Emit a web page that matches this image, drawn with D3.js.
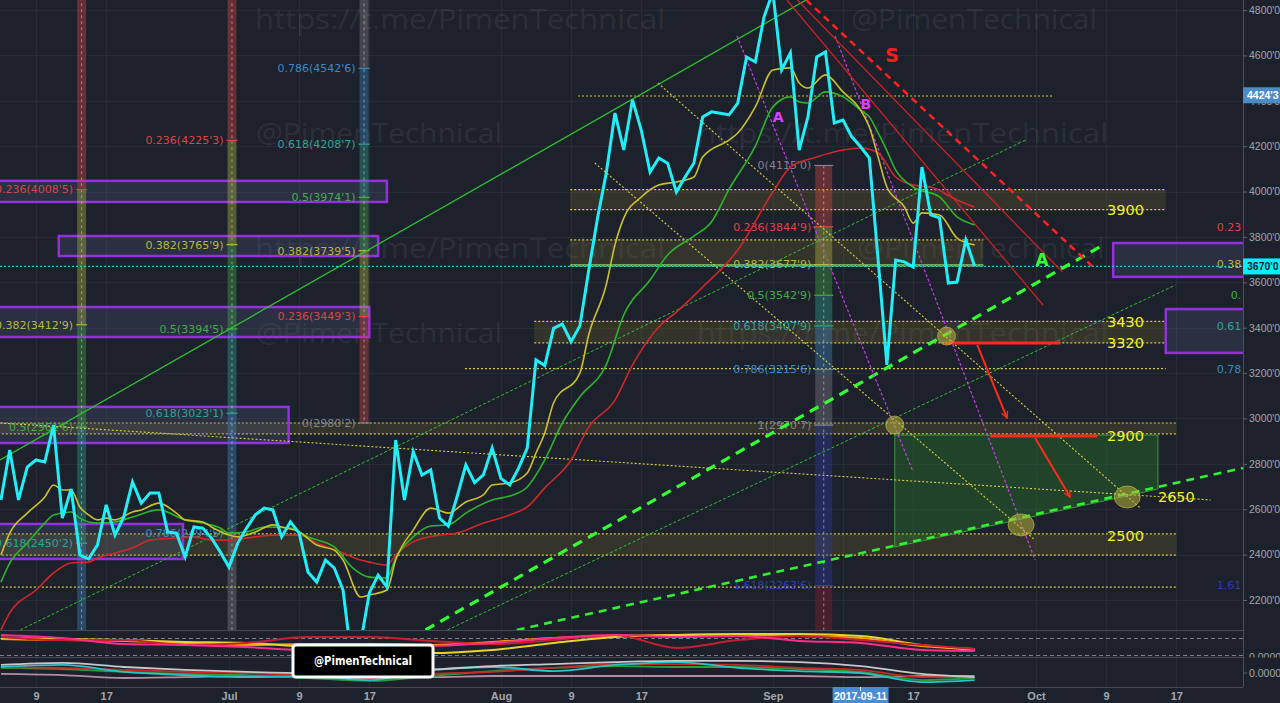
<!DOCTYPE html>
<html><head><meta charset="utf-8">
<script src="https://cdn.jsdelivr.net/npm/d3@7"></script>
<style>
html,body{margin:0;padding:0;background:#1d212b;overflow:hidden;}
svg{display:block;}
</style></head><body>
<svg id="chart" width="1280" height="703"></svg>
<script>
// ================= DATA =================
const priceStart = "2017-06-05";
const priceClose = [
 2641,2861,2641,2786,2817,2808,2971,2561,2689,2398,2381,2442,2619,2486,2566,2720,2627,2672,2672,2500,2495,2390,2522,2517,2473,2412,
 2345,2451,2517,2575,2605,2597,2478,2544,2495,2323,2279,2376,2341,2244,1930,2010,2231,2310,2257,2905,2641,2854,2751,2773,2561,2526,2655,2795,2717,2751,2869,
 2736,2707,2780,2869,3258,3233,3397,3416,3338,3408,3650,3880,4080,4346,4183,4404,4270,4086,4148,4125,3998,4064,4126,4329,4351,4345,4338,4390,4593,4571,4770,
 4880,4536,4611,4183,4329,4593,4615,4302,4315,4241,4197,4148,3700,3236,3698,3690,3667,4108,3897,3884,3597,3601,3787,3672
];
const yellowMA = [["06-05",2398],["06-06",2495],["06-08",2583],["06-10",2654],["06-11",2707],["06-12",2685],["06-13",2685],["06-14",2610],["06-15",2575],["06-16",2553],["06-17",2561],["06-18",2553],["06-20",2588],["06-21",2597],["06-23",2627],["06-25",2583],["06-26",2553],["06-28",2544],["06-29",2522],["07-01",2486],["07-02",2478],["07-04",2500],["07-06",2531],["07-07",2522],["07-09",2500],["07-11",2442],["07-13",2420],["07-14",2376],["07-16",2213],["07-17",2222],["07-19",2244],["07-20",2376],["07-22",2508],["07-24",2605],["07-26",2583],["07-28",2632],["07-30",2663],["07-31",2707],["08-02",2716],["08-04",2760],["08-05",2848],["08-06",2936],["08-07",3068],["08-10",3200],["08-11",3368],["08-13",3588],["08-14",3765],["08-15",3883],["08-17",3976],["08-19",4029],["08-21",4042],["08-23",4064],["08-24",4152],["08-27",4227],["08-28",4258],["08-30",4373],["09-01",4536],["09-03",4545],["09-04",4478],["09-05",4456],["09-07",4514],["09-09",4439],["09-11",4359],["09-12",4284],["09-13",4152],["09-14",4020],["09-16",3932],["09-17",3861],["09-18",3906],["09-20",3897],["09-22",3795],["09-24",3765]];
const greenMA = [["06-05",2279],["06-06",2363],["06-08",2451],["06-10",2539],["06-11",2575],["06-13",2588],["06-14",2561],["06-16",2539],["06-18",2544],["06-20",2566],["06-23",2597],["06-26",2553],["06-28",2539],["06-30",2517],["07-01",2495],["07-03",2500],["07-05",2522],["07-08",2517],["07-10",2478],["07-13",2434],["07-15",2345],["07-17",2301],["07-19",2297],["07-20",2385],["07-22",2478],["07-24",2526],["07-26",2531],["07-28",2583],["07-31",2641],["08-02",2658],["08-04",2698],["08-06",2817],["08-08",2980],["08-10",3095],["08-13",3236],["08-15",3456],["08-18",3610],["08-20",3720],["08-23",3804],["08-25",3866],["08-27",4010],["08-30",4200],["09-01",4373],["09-03",4417],["09-04",4395],["09-05",4390],["09-07",4439],["09-09",4417],["09-11",4359],["09-12",4329],["09-13",4258],["09-14",4180],["09-15",4095],["09-17",4020],["09-20",3976],["09-22",3888],["09-24",3853]];
const redMA = [["06-05",2068],["06-06",2143],["06-09",2244],["06-11",2319],["06-13",2363],["06-15",2367],["06-16",2385],["06-18",2407],["06-20",2429],["06-22",2464],["06-25",2473],["06-27",2478],["06-29",2464],["07-01",2464],["07-04",2478],["07-06",2486],["07-09",2486],["07-11",2451],["07-14",2407],["07-16",2376],["07-17",2367],["07-19",2354],["07-20",2398],["07-22",2456],["07-25",2486],["07-27",2495],["07-30",2539],["08-02",2575],["08-04",2610],["08-06",2694],["08-09",2817],["08-11",2962],["08-14",3081],["08-16",3236],["08-19",3403],["08-21",3469],["08-24",3579],["08-28",3742],["09-01",3998],["09-03",4108],["09-06",4152],["09-09",4183],["09-11",4192],["09-13",4170],["09-15",4064],["09-17",4029],["09-19",4020],["09-22",3963],["09-24",3932]];

// indicator panes (weekly readings, 0-100 pane units)
const paneDates = ["06-05","06-12","06-19","06-26","07-03","07-10","07-17","07-24","07-31","08-07","08-14","08-21","08-28","09-04","09-11","09-18","09-24"];
const oscMagenta = [85,73,50,46,38,27,35,42,54,73,85,77,81,62,54,27,23];
const oscYellow  = [73,69,65,58,54,38,27,15,27,54,77,85,88,88,81,46,27];
const oscRed     = [77,65,65,46,54,77,77,62,50,65,85,35,65,81,65,46,31];
const oscOrange  = [69,65,62,54,46,50,50,46,58,73,81,85,85,81,73,42,31];
const volWhite = [76,83,69,59,52,48,48,59,72,79,86,90,90,86,72,45,34];
const volCyan  = [69,76,52,41,34,38,24,59,69,55,76,86,66,55,48,17,24];
const volRed   = [69,66,59,52,48,41,31,45,52,66,79,79,76,66,59,34,34];
const volPink  = [45,41,31,34,38,34,34,34,38,38,38,38,38,38,34,38,38];
const volGreen = [66,62,52,45,41,31,21,38,55,66,72,69,69,62,52,24,31];

// axis ticks
const priceTicks = [2200,2400,2600,2800,3000,3200,3400,3600,3800,4000,4200,4400,4600,4800];
const xTickDates = ["2017-06-09","2017-06-17","2017-07-01","2017-07-09","2017-07-17","2017-08-01","2017-08-09","2017-08-17","2017-09-01","2017-09-09","2017-09-17","2017-10-01","2017-10-09","2017-10-17"];
const xTickLabels = ["9","17","Jul","9","17","Aug","9","17","Sep","9","17","Oct","9","17"];

// drawings: day offsets from 2017-07-01, prices
const trendSolid = [[-26.1,2817,65.8,4844]];
const trendDotted = [[-23.8,2068,90.8,4227],[24.9,2068,107.9,3588]];
const trendDashThick = [[22.4,2068,99.7,3765]];
const trendDashMed = [[32.8,2068,115.6,2782]];
const yellowDiag = [[41.7,4126,91.9,2464],[48.9,4478,103.9,2605],[-26.1,2980,111.9,2641]];
const magentaLines = [[57.9,4686,77.9,2773],[69.1,4686,91.9,2376]];
const redDashed = [[65.8,4844,98.5,3668]];
const redSolid = [[63.6,4844,92.8,3500],[64.8,4844,95.0,3646]];
const redHoriz = [[81.6,3333,94.8,3333],[86.8,2923,99.0,2923]];
const redArrows = [[85.3,3324,88.7,3002],[91.9,2914,95.9,2654]];
const circlesSmall = [[81.8,3363],[75.9,2971]];
const circlesLarge = [[90.3,2531],[102.4,2654]];
const zones = [[38.9,106.8,4008,3920],[38.9,86.0,3787,3672],[34.8,106.8,3428,3333],[-30,108.0,2980,2932],[-30,108.0,2491,2398]];
const dottedLevels = [[39.8,94.0,4421],[26.9,106.8,3220],[-30,108.0,2257]];
const fibLine382 = [[38.9,86.0,3677.9]];
const levelLabels = [["3900",100.1,3919],["3430",100.1,3425],["3320",100.1,3333],["2900",100.1,2923],["2650",105.9,2654],["2500",100.1,2482]];
const targetBox = [75.9,105.9,2927,2434,2689];
const purpleBoxes = [[-30,18.0,4047,3954],[-19.4,17.0,3804,3716],[-30,16.0,3491,3359],[-30,6.8,3051,2892],[-30,-5.25,2535,2381],[100.8,125,3773,3624],[106.8,125,3482,3289]];
const currentPrice = 3670;
const highPrice = 4424.3;

// fib tools: stripe segments [from, to, level] and labels [text, price, level]
const fibDays = [-16.8, 0.34, 15.4, 67.8];
const fibSegments = [
 [[5200,4008.5,"0.236"],[4008.5,3412.9,"0.382"],[3412.9,2961.6,"0.5"],[2961.6,2450.2,"0.618"],[2450.2,1900,"0.786"]],
 [[5200,4225.3,"0.236"],[4225.3,3765.9,"0.382"],[3765.9,3394.5,"0.5"],[3394.5,3023.1,"0.618"],[3023.1,2494.5,"0.786"],[2494.5,1900,"1"]],
 [[2980.2,3449.3,"0.236"],[3449.3,3739.5,"0.382"],[3739.5,3974.1,"0.5"],[3974.1,4208.7,"0.618"],[4208.7,4542.6,"0.786"],[4542.6,5200,"1"]],
 [[4114.9,3844.9,"0.236"],[3844.9,3677.9,"0.382"],[3677.9,3542.9,"0.5"],[3542.9,3407.9,"0.618"],[3407.9,3215.6,"0.786"],[3215.6,2970.7,"1"],[2970.7,2263.6,"1.618"],[2263.6,1900,"2.618"]]
];
const fibLabels = [
 [["0.236(4008'5)",4008.5,"0.236"],["0.382(3412'9)",3412.9,"0.382"],["0.5(2961'6)",2961.6,"0.5"],["0.618(2450'2)",2450.2,"0.618"]],
 [["0.236(4225'3)",4225.3,"0.236"],["0.382(3765'9)",3765.9,"0.382"],["0.5(3394'5)",3394.5,"0.5"],["0.618(3023'1)",3023.1,"0.618"],["0.786(2494'5)",2494.5,"0.786"]],
 [["0.786(4542'6)",4542.6,"0.786"],["0.618(4208'7)",4208.7,"0.618"],["0.5(3974'1)",3974.1,"0.5"],["0.382(3739'5)",3739.5,"0.382"],["0.236(3449'3)",3449.3,"0.236"],["0(2980'2)",2980.2,"0"]],
 [["0(4115'0)",4114.9,"0"],["0.236(3844'9)",3844.9,"0.236"],["0.382(3677'9)",3677.9,"0.382"],["0.5(3542'9)",3542.9,"0.5"],["0.618(3407'9)",3407.9,"0.618"],["0.786(3215'6)",3215.6,"0.786"],["1(2970'7)",2970.7,"1"],["1.618(2263'6)",2263.6,"1.618"]]
];
const fibRightDay = 121.5;
const fibRightLabels = [["0.236(3844'9)",3844.9,"0.236"],["0.382(3677'9)",3677.9,"0.382"],["0.5(3542'9)",3542.9,"0.5"],["0.618(3407'9)",3407.9,"0.618"],["0.786(3215'6)",3215.6,"0.786"],["1.618(2263'6)",2263.6,"1.618"]];

// ================= SETUP =================
const fibColor = {"0":"#80838d","0.236":"#d94646","0.382":"#b3bb3c","0.5":"#43ad47","0.618":"#2ea596","0.786":"#3b8ac6","1":"#80838d","1.618":"#2c3ca8","2.618":"#8a2030"};
const P = s => new Date(s + "T00:00:00Z");
const P17 = s => P("2017-" + s);
const base = Date.UTC(2017,6,1);
const D = n => new Date(base + n*864e5);

const RIGHT = 1243, PANE = 630;
const x = d3.scaleUtc().domain([P("2017-07-01"), P("2017-10-01")]).range([229,1036]);
const y = d3.scaleLinear().domain([2200,4800]).range([600,10]);
const y1 = d3.scaleLinear().domain([0,100]).range([657,631]);
const y2 = d3.scaleLinear().domain([0,100]).range([687,658]);

const svg = d3.select("#chart");
const defs = svg.append("defs");
defs.append("clipPath").attr("id","mainClip").append("rect").attr("x",0).attr("y",0).attr("width",RIGHT).attr("height",PANE);
defs.append("clipPath").attr("id","labClip").append("rect").attr("x",0).attr("y",0).attr("width",RIGHT-2).attr("height",PANE);
defs.append("clipPath").attr("id","plotClip").append("rect").attr("x",0).attr("y",0).attr("width",RIGHT).attr("height",703);
defs.append("clipPath").attr("id","p1Clip").append("rect").attr("x",0).attr("y",631).attr("width",1280).attr("height",26.5);
defs.append("marker").attr("id","arr").attr("viewBox","0 0 10 10").attr("refX",9).attr("refY",5)
  .attr("markerWidth",4).attr("markerHeight",4).attr("orient","auto").attr("markerUnits","strokeWidth")
  .append("path").attr("d","M1,1 L9,5 L1,9").attr("fill","none").attr("stroke","#ff2a1a").attr("stroke-width",1.6);

svg.append("rect").attr("width",1280).attr("height",703).attr("fill","#1d212b");

// grid
const grid = svg.append("g").attr("clip-path","url(#plotClip)");
grid.selectAll(".gh").data(priceTicks).join("line")
  .attr("x1",0).attr("x2",RIGHT).attr("y1",d=>Math.round(y(d))+0.5).attr("y2",d=>Math.round(y(d))+0.5)
  .attr("stroke","#272b35");
grid.selectAll(".gv").data(xTickDates).join("line")
  .attr("x1",d=>Math.round(x(P(d)))+0.5).attr("x2",d=>Math.round(x(P(d)))+0.5).attr("y1",0).attr("y2",687)
  .attr("stroke","#272b35");

// watermarks
const wm = [["https://t.me/PimenTechnical",255,29,410],["@PimenTechnical",851,29,246],["@PimenTechnical",256,143,246],["https://t.me/PimenTechnical",697,143,411],
            ["https://t.me/PimenTechnical",255,258,410],["@PimenTechnical",857,258,248],["@PimenTechnical",256,343,246],["https://t.me/PimenTechnical",697,343,411]];
svg.append("g").selectAll("text").data(wm).join("text")
  .attr("x",d=>d[1]).attr("y",d=>d[2]).attr("textLength",d=>d[3]).attr("lengthAdjust","spacingAndGlyphs")
  .attr("font-family","Open Sans").attr("font-size",27).attr("fill","#ffffff").attr("fill-opacity",0.08).text(d=>d[0]);

const main = svg.append("g").attr("clip-path","url(#mainClip)");
const seg = (sel, data) => sel.selectAll(null).data(data).join("line")
  .attr("x1",d=>x(D(d[0]))).attr("y1",d=>y(d[1])).attr("x2",d=>x(D(d[2]))).attr("y2",d=>y(d[3]));

// zones
main.selectAll(".zone").data(zones).join("rect")
  .attr("x",d=>x(D(d[0]))).attr("width",d=>x(D(d[1]))-x(D(d[0])))
  .attr("y",d=>y(d[2])).attr("height",d=>y(d[3])-y(d[2]))
  .attr("fill","#8a7a30").attr("fill-opacity",0.22);
const zl = main.append("g").attr("stroke","#d6cc3c").attr("stroke-width",1.2).attr("stroke-dasharray","2,2");
zones.forEach(z=>{ seg(zl,[[z[0],z[2],z[1],z[2]],[z[0],z[3],z[1],z[3]]]); });
seg(zl, dottedLevels.map(d=>[d[0],d[2],d[1],d[2]]));
seg(main.append("g").attr("stroke","#7fc26a").attr("stroke-width",1.5).attr("stroke-opacity",0.8), fibLine382.map(d=>[d[0],d[2],d[1],d[2]]));

// purple boxes
main.selectAll(".pbox").data(purpleBoxes).join("rect")
  .attr("x",d=>x(D(d[0]))).attr("width",d=>x(D(d[1]))-x(D(d[0])))
  .attr("y",d=>y(d[2])).attr("height",d=>y(d[3])-y(d[2]))
  .attr("fill","#5d6290").attr("fill-opacity",0.22).attr("stroke","#9330e0").attr("stroke-width",2.5);

// fib stripes
fibDays.forEach((fd,i)=>{
  const cx = x(D(fd)), w = i===3 ? 17 : 9;
  const gs = main.append("g");
  gs.selectAll("rect").data(fibSegments[i]).join("rect")
    .attr("x",cx-w/2).attr("width",w)
    .attr("y",d=>Math.min(y(d[0]),y(d[1]))).attr("height",d=>Math.abs(y(d[0])-y(d[1])))
    .attr("fill",d=>fibColor[d[2]]).attr("fill-opacity",0.38);
  const ys = fibSegments[i].flatMap(d=>[y(d[0]),y(d[1])]);
  gs.append("line").attr("x1",cx).attr("x2",cx).attr("y1",d3.min(ys)).attr("y2",d3.max(ys))
    .attr("stroke","#d0d0d0").attr("stroke-opacity",0.55).attr("stroke-dasharray","3,3");
  gs.selectAll("line.lv").data(fibLabels[i]).join("line")
    .attr("x1",cx-w/2-1).attr("x2",cx+w/2+1).attr("y1",d=>y(d[1])).attr("y2",d=>y(d[1]))
    .attr("stroke",d=>fibColor[d[2]]).attr("stroke-width",1.2);
  gs.selectAll("text").data(fibLabels[i]).join("text")
    .attr("x",cx-w/2-4).attr("y",d=>y(d[1])).attr("dy","0.35em").attr("text-anchor","end")
    .attr("font-family","DejaVu Sans").attr("font-size",11).attr("fill",d=>fibColor[d[2]]).text(d=>d[0]);
});
svg.append("g").attr("clip-path","url(#labClip)").selectAll("text").data(fibRightLabels).join("text")
  .attr("x",x(D(fibRightDay))).attr("y",d=>y(d[1])).attr("dy","0.35em").attr("text-anchor","end")
  .attr("font-family","DejaVu Sans").attr("font-size",11).attr("fill",d=>fibColor[d[2]]).text(d=>d[0]);

// current price dotted line
main.append("line").attr("x1",0).attr("x2",RIGHT).attr("y1",y(currentPrice)).attr("y2",y(currentPrice))
  .attr("stroke","#1fc8d8").attr("stroke-dasharray","2,2").attr("stroke-width",1.2);

// target box
main.append("path").datum(targetBox).attr("d",d=>{
  const xa=x(D(d[0])), xb=x(D(d[1]));
  return `M${xa},${y(d[2])}L${xb},${y(d[2])}L${xb},${y(d[4])}L${xa},${y(d[3])}Z`;
}).attr("fill","#2a8a2a").attr("fill-opacity",0.33).attr("stroke","#3a9a3a").attr("stroke-width",1);

// trendlines
seg(main.append("g").attr("stroke","#2fc02f").attr("stroke-width",1.3), trendSolid);
seg(main.append("g").attr("stroke","#2fbf2f").attr("stroke-width",1).attr("stroke-dasharray","3,2"), trendDotted);
seg(main.append("g").attr("stroke","#33ff33").attr("stroke-width",3.2).attr("stroke-dasharray","10,7"), trendDashThick);
seg(main.append("g").attr("stroke","#33ee33").attr("stroke-width",2.6).attr("stroke-dasharray","8,6"), trendDashMed);
seg(main.append("g").attr("stroke","#d8d040").attr("stroke-width",1.1).attr("stroke-dasharray","2,2"), yellowDiag);
seg(main.append("g").attr("stroke","#c040e0").attr("stroke-width",1.2).attr("stroke-dasharray","3,2"), magentaLines);
seg(main.append("g").attr("stroke","#d82020").attr("stroke-width",1.2), redSolid);
seg(main.append("g").attr("stroke","#ff2020").attr("stroke-width",2.5).attr("stroke-dasharray","7,5"), redDashed);

// moving averages
const maLine = d3.line().x(d=>x(P17(d[0]))).y(d=>y(d[1])).curve(d3.curveMonotoneX);
[[redMA,"#d0282a"],[greenMA,"#2cb52c"],[yellowMA,"#c9c02f"]].forEach(([s,c])=>{
  main.append("path").datum(s).attr("d",maLine).attr("fill","none").attr("stroke",c).attr("stroke-width",1.6);
});

// price
const priceData = priceClose.map((v,i)=>({date:d3.utcDay.offset(P(priceStart),i), v}));
main.append("path").datum(priceData).attr("d",d3.line().x(d=>x(d.date)).y(d=>y(d.v)))
  .attr("fill","none").attr("stroke","#22eef8").attr("stroke-width",3).attr("stroke-linejoin","miter");

// red horizontal + arrows
seg(main.append("g").attr("stroke","#ff2a1a").attr("stroke-width",3), redHoriz);
seg(main.append("g").attr("stroke","#ff2a1a").attr("stroke-width",2).attr("marker-end","url(#arr)"), redArrows);

// circles
main.selectAll(".cs").data(circlesSmall).join("ellipse").attr("cx",d=>x(D(d[0]))).attr("cy",d=>y(d[1]))
  .attr("rx",9).attr("ry",9).attr("fill","#b6b23a").attr("fill-opacity",0.55).attr("stroke","#c8c44a").attr("stroke-opacity",0.6);
main.selectAll(".cl").data(circlesLarge).join("ellipse").attr("cx",d=>x(D(d[0]))).attr("cy",d=>y(d[1]))
  .attr("rx",13).attr("ry",11).attr("fill","#b6b23a").attr("fill-opacity",0.55).attr("stroke","#c8c44a").attr("stroke-opacity",0.6);

// level labels
main.selectAll(".ll").data(levelLabels).join("text").attr("x",d=>x(D(d[1]))).attr("y",d=>y(d[2])).attr("dy","0.36em")
  .attr("font-family","DejaVu Sans").attr("font-size",14.5).attr("fill","#f2f22a").text(d=>d[0]);

// wave labels
const waveLabels = [["S",75.6,4602,"#ff1a1a",19],["A",92.7,3698,"#33ff33",17],["A",62.6,4329,"#e040fb",14],["B",72.6,4386,"#e040fb",14]];
main.selectAll(".wl").data(waveLabels).join("text").attr("x",d=>x(D(d[1]))).attr("y",d=>y(d[2])).attr("dy","0.36em")
  .attr("text-anchor","middle").attr("font-family","DejaVu Sans").attr("font-weight","bold")
  .attr("font-size",d=>d[4]).attr("fill",d=>d[3]).text(d=>d[0]);

// ================= PANES =================
const pane = svg.append("g").attr("clip-path","url(#plotClip)");
pane.selectAll(".sep").data([630.5,657.5,687.5]).join("line").attr("x1",0).attr("x2",RIGHT).attr("y1",d=>d).attr("y2",d=>d).attr("stroke","#464a55");
pane.selectAll(".pd").data([638,655]).join("line").attr("x1",0).attr("x2",RIGHT).attr("y1",d=>d+0.5).attr("y2",d=>d+0.5)
  .attr("stroke","#7a7e88").attr("stroke-dasharray","4,3");
const pl = (arr, sc) => d3.line().x((d,i)=>x(P17(paneDates[i]))).y(d=>sc(d)).curve(d3.curveMonotoneX)(arr);
[[oscOrange,"#ff9800"],[oscYellow,"#e6d42a"],[oscRed,"#c81e32"],[oscMagenta,"#ff2d8a"]].forEach(([a,c])=>{
  pane.append("path").attr("d",pl(a,y1)).attr("fill","none").attr("stroke",c).attr("stroke-width",2);
});
[[volPink,"#b48ca0"],[volGreen,"#2a9a3a"],[volRed,"#c8282a"],[volCyan,"#27c3c9"],[volWhite,"#c8c8cc"]].forEach(([a,c])=>{
  pane.append("path").attr("d",pl(a,y2)).attr("fill","none").attr("stroke",c).attr("stroke-width",1.8);
});

// branding box
svg.append("rect").attr("x",293).attr("y",645).attr("width",140).attr("height",32).attr("rx",3)
  .attr("fill","#000").attr("stroke","#fff").attr("stroke-width",3);
svg.append("text").attr("x",363).attr("y",661).attr("dy","0.35em").attr("text-anchor","middle")
  .attr("font-family","DejaVu Sans").attr("font-weight","bold").attr("font-size",12).attr("textLength",98)
  .attr("lengthAdjust","spacingAndGlyphs").attr("fill","#fff").text("@PimenTechnical");

// ================= AXES =================
svg.append("line").attr("x1",RIGHT+0.5).attr("x2",RIGHT+0.5).attr("y1",0).attr("y2",687).attr("stroke","#4a4e59");
const yAxis = svg.append("g").attr("transform",`translate(${RIGHT},0)`)
  .call(d3.axisRight(y).tickValues(priceTicks).tickFormat(d=>d+"'0").tickSize(4));
yAxis.select(".domain").remove();
yAxis.selectAll("line").attr("stroke","#5d616b");
yAxis.selectAll("text").attr("font-family","Liberation Sans").attr("font-size",10.5).attr("fill","#a3a6af").attr("x",6);

const p1Ax = svg.append("g").attr("clip-path","url(#p1Clip)");
p1Ax.append("text").attr("x",1249).attr("y",661).attr("font-family","Liberation Sans").attr("font-size",10.5).attr("fill","#a3a6af").text("0.0000");
svg.append("text").attr("x",1249).attr("y",673).attr("dy","0.35em").attr("font-family","Liberation Sans").attr("font-size",10.5).attr("fill","#a3a6af").text("0.0000");
svg.append("line").attr("x1",RIGHT).attr("x2",RIGHT+4).attr("y1",673).attr("y2",673).attr("stroke","#5d616b");

// badges
const badge = (val, fill, txt, tc) => {
  const yy = y(val);
  svg.append("rect").attr("x",RIGHT).attr("y",yy-8).attr("width",37).attr("height",16).attr("fill",fill);
  svg.append("text").attr("x",RIGHT+4).attr("y",yy).attr("dy","0.35em").attr("font-family","Liberation Sans").attr("font-weight","bold")
    .attr("font-size",10.5).attr("fill",tc).text(txt);
};
badge(highPrice,"#4a8cc8","4424'3","#ffffff");
badge(currentPrice,"#00f0ff","3670'0","#1d212b");

const xAxis = svg.append("g").attr("transform","translate(0,687)")
  .call(d3.axisBottom(x).tickValues(xTickDates.map(P)).tickFormat((d,i)=>xTickLabels[i]).tickSize(0));
xAxis.select(".domain").remove();
xAxis.selectAll("text").attr("y",5).attr("font-family","Liberation Sans").attr("font-weight","bold").attr("font-size",11).attr("fill","#a3a6af");

const bx = x(P("2017-09-11"));
svg.append("rect").attr("x",bx-28).attr("y",687).attr("width",56).attr("height",16).attr("fill","#4a8cd1");
svg.append("text").attr("x",bx).attr("y",696).attr("dy","0.35em").attr("text-anchor","middle").attr("font-family","Liberation Sans")
  .attr("font-weight","bold").attr("font-size",10.5).attr("fill","#ffffff").text("2017-09-11");
svg.append("line").attr("x1",bx).attr("x2",bx).attr("y1",687).attr("y2",691).attr("stroke","#fff");
</script>
</body></html>
